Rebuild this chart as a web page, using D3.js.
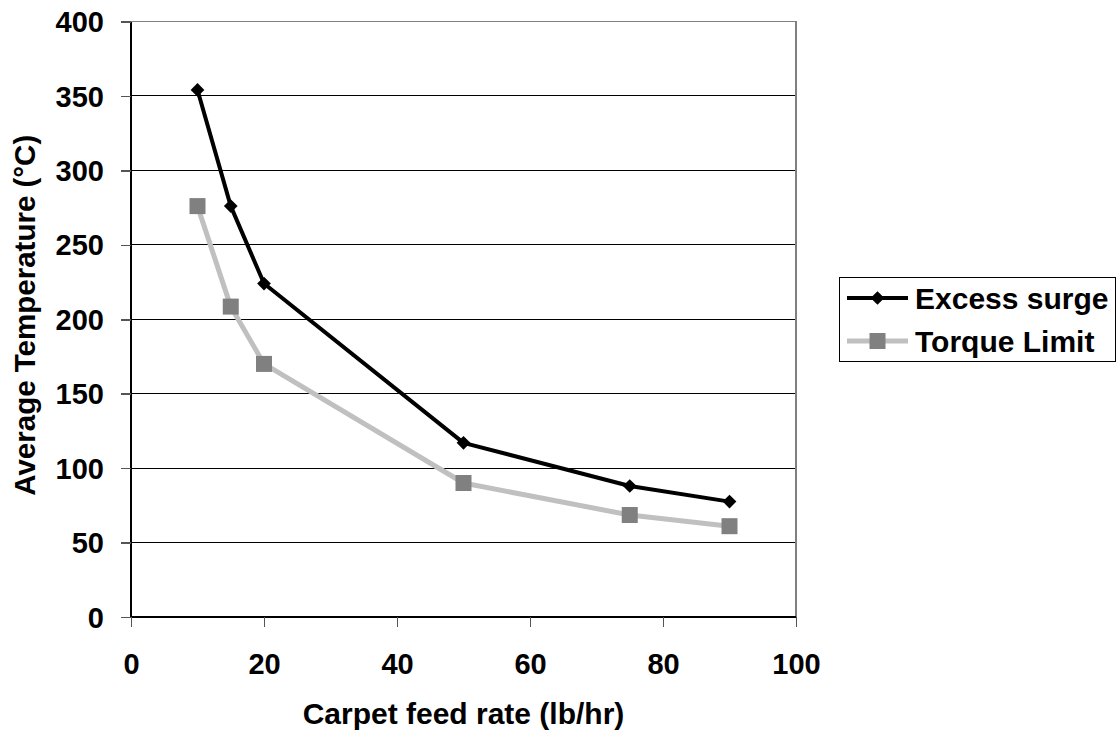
<!DOCTYPE html>
<html>
<head>
<meta charset="utf-8">
<script src="https://cdn.jsdelivr.net/npm/d3@7"></script>
<style>
  html, body { margin: 0; padding: 0; background: #fff; }
  svg { display: block; }
  text { font-family: "Liberation Sans", Arial, sans-serif; font-weight: bold; fill: #000; }
</style>
</head>
<body>
<svg id="chart" width="1118" height="735"></svg>
<script>
// Feed rate (lb/hr) at which each test was run
const feedRates = [10, 15, 20, 50, 75, 90];
// Average temperature (°C) per feed rate
const excessSurge = [354, 276, 224, 117, 88, 77.5];
const torqueLimit = [276, 208.5, 170, 90, 68.5, 61];

const xTicks = [0, 20, 40, 60, 80, 100];
const yTicks = [0, 50, 100, 150, 200, 250, 300, 350, 400];

const seriesNames = ["Excess surge", "Torque Limit"];

const W = 1118, H = 735;
const plot = { left: 131, right: 796, top: 21.5, bottom: 617 };

const svg = d3.select("#chart");

const x = d3.scaleLinear().domain([0, 100]).range([plot.left, plot.right]);
const y = d3.scaleLinear().domain([0, 400]).range([plot.bottom, plot.top]);

// Horizontal gridlines
svg.append("g")
  .selectAll("line")
  .data(yTicks.filter(d => d > 0 && d < 400))
  .join("line")
  .attr("x1", plot.left).attr("x2", plot.right)
  .attr("y1", d => y(d)).attr("y2", d => y(d))
  .attr("stroke", "#000").attr("stroke-width", 1)
  .attr("shape-rendering", "crispEdges");

// Plot-area border (top and right)
svg.append("path")
  .attr("d", `M${plot.left},${y(400)}H${plot.right}V${plot.bottom}`)
  .attr("fill", "none").attr("stroke", "#808080").attr("stroke-width", 1.5)
  .attr("shape-rendering", "crispEdges");

// Axes
const xAxis = d3.axisBottom(x).tickValues(xTicks).tickSize(10).tickPadding(26).tickFormat(d3.format("d"));
const yAxis = d3.axisLeft(y).tickValues(yTicks).tickSize(10).tickPadding(17).tickFormat(d3.format("d"));

const gx = svg.append("g").attr("transform", `translate(0,${plot.bottom})`).call(xAxis);
const gy = svg.append("g").attr("transform", `translate(${plot.left},0)`).call(yAxis);

[gx, gy].forEach(g => {
  g.select(".domain").attr("stroke", "#000").attr("stroke-width", 1.5).attr("shape-rendering", "crispEdges");
  g.selectAll(".tick line").attr("stroke", "#555").attr("stroke-width", 1.5).attr("shape-rendering", "crispEdges");
  g.selectAll(".tick text")
    .style("font-family", '"Liberation Sans", Arial, sans-serif')
    .style("font-weight", "bold")
    .style("font-size", "29px")
    .attr("fill", "#000");
});
gy.select(".domain").attr("d", `M0,${plot.bottom}V${plot.top}`);
gx.select(".domain").attr("d", `M${plot.left},0H${plot.right}`);
gy.selectAll(".tick text").attr("dy", "0.35em");

// Axis titles
svg.append("text")
  .attr("x", (plot.left + plot.right) / 2)
  .attr("y", 724)
  .attr("text-anchor", "middle")
  .style("font-size", "30px")
  .text("Carpet feed rate (lb/hr)");

svg.append("text")
  .attr("transform", `translate(35,${(plot.top + plot.bottom) / 2 - 4}) rotate(-90)`)
  .attr("text-anchor", "middle")
  .style("font-size", "29.5px")
  .text("Average Temperature (°C)");

// Series lines
const line = d3.line().x(d => x(d[0])).y(d => y(d[1]));
const dataA = feedRates.map((f, i) => [f, excessSurge[i]]);
const dataB = feedRates.map((f, i) => [f, torqueLimit[i]]);

svg.append("path").datum(dataB)
  .attr("d", line).attr("fill", "none")
  .attr("stroke", "#c0c0c0").attr("stroke-width", 5).attr("stroke-linejoin", "round");

svg.append("path").datum(dataA)
  .attr("d", line).attr("fill", "none")
  .attr("stroke", "#000").attr("stroke-width", 4).attr("stroke-linejoin", "round");

// Markers
const diamond = d3.symbol().type(d3.symbolDiamond2).size(120);
const sq = 16;

svg.append("g").selectAll("rect").data(dataB).join("rect")
  .attr("x", d => x(d[0]) - sq / 2).attr("y", d => y(d[1]) - sq / 2)
  .attr("width", sq).attr("height", sq).attr("fill", "#808080");

svg.append("g").selectAll("path").data(dataA).join("path")
  .attr("transform", d => `translate(${x(d[0])},${y(d[1])})`)
  .attr("d", diamond).attr("fill", "#000");

// Legend
const lg = svg.append("g");
lg.append("rect")
  .attr("x", 839.5).attr("y", 277.5).attr("width", 276).attr("height", 84)
  .attr("fill", "#fff").attr("stroke", "#000").attr("stroke-width", 1);

const legendRows = [
  { name: seriesNames[0], y: 298, color: "#000", width: 4, marker: "diamond" },
  { name: seriesNames[1], y: 341, color: "#c0c0c0", width: 5, marker: "square" }
];
legendRows.forEach(r => {
  lg.append("line").attr("x1", 847).attr("x2", 908).attr("y1", r.y).attr("y2", r.y)
    .attr("stroke", r.color).attr("stroke-width", r.width);
  if (r.marker === "diamond") {
    lg.append("path").attr("transform", `translate(877.5,${r.y})`).attr("d", diamond).attr("fill", "#000");
  } else {
    lg.append("rect").attr("x", 877.5 - sq / 2).attr("y", r.y - sq / 2)
      .attr("width", sq).attr("height", sq).attr("fill", "#808080");
  }
  lg.append("text").attr("x", 915).attr("y", r.y + 11)
    .style("font-size", "30px").text(r.name);
});
</script>
</body>
</html>
